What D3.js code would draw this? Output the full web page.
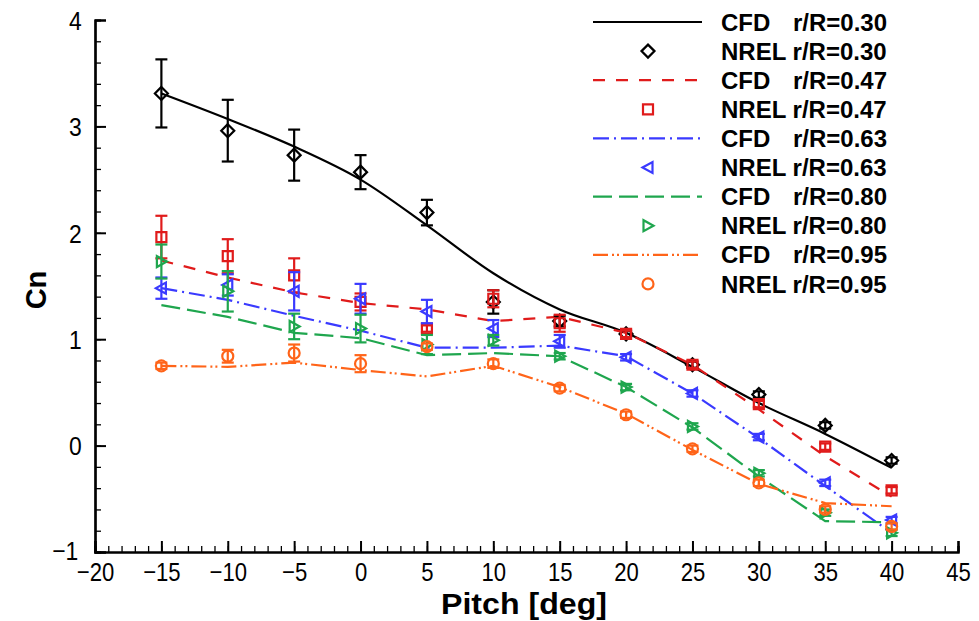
<!DOCTYPE html>
<html><head><meta charset="utf-8">
<script src="https://cdn.jsdelivr.net/npm/d3@7"></script>
<style>body{margin:0;background:#fff}svg{display:block}</style>
</head><body>
<svg id="c" width="979" height="621"></svg>
<script>
const pitch = [-15,-10,-5,0,5,10,15,20,25,30,35,40];
const xTicks = [-20,-15,-10,-5,0,5,10,15,20,25,30,35,40,45];
const yTicks = [-1,0,1,2,3,4];

const cfd030  = [3.31,3.07,2.81,2.50,2.07,1.62,1.28,1.06,0.74,0.40,0.11,-0.21];
const nrel030 = [3.31,2.96,2.73,2.57,2.19,1.35,1.17,1.05,0.76,0.48,0.19,-0.14];
const err030  = [0.32,0.29,0.24,0.16,0.12,0.11,0.05,0.03,0.03,0.03,0.03,0.03];

const cfd047  = [1.74,1.58,1.44,1.34,1.28,1.17,1.21,1.06,0.76,0.34,-0.10,-0.48];
const nrel047 = [1.96,1.78,1.60,1.35,1.10,1.38,1.15,1.05,0.76,0.39,-0.01,-0.42];
const err047  = [0.20,0.16,0.16,0.08,0.03,0.08,0.08,0.03,0.03,0.03,0.03,0.03];

const cfd063  = [1.48,1.37,1.22,1.08,0.92,0.92,0.94,0.84,0.49,0.07,-0.38,-0.82];
const nrel063 = [1.48,1.51,1.45,1.38,1.26,1.10,0.98,0.83,0.49,0.08,-0.35,-0.70];
const err063  = [0.10,0.10,0.18,0.14,0.11,0.08,0.06,0.03,0.03,0.03,0.03,0.03];

const cfd080  = [1.32,1.21,1.06,1.01,0.85,0.87,0.84,0.55,0.17,-0.29,-0.71,-0.72];
const nrel080 = [1.73,1.45,1.12,1.10,0.95,0.99,0.84,0.55,0.18,-0.26,-0.63,-0.82];
const err080  = [0.16,0.19,0.12,0.13,0.09,0.05,0.03,0.03,0.03,0.03,0.03,0.03];

const cfd095  = [0.75,0.74,0.78,0.71,0.65,0.75,0.55,0.30,-0.04,-0.36,-0.54,-0.57];
const nrel095 = [0.75,0.84,0.87,0.77,0.93,0.77,0.54,0.29,-0.03,-0.35,-0.60,-0.76];
const err095  = [0.03,0.06,0.08,0.08,0.03,0.04,0.03,0.03,0.03,0.03,0.03,0.03];

const radii = ["0.30","0.47","0.63","0.80","0.95"];

// styles
const colors = ["#000000","#e01b1b","#3a3aff","#1fa64e","#ff6419"];
const dashes = [null,"12,11","16,5,2,5","19,7","15,4,2,3,2,4"];
const symbols = ["diamond","square","triLeft","triRight","circle"];
const curves = [d3.curveMonotoneX, d3.curveLinear, d3.curveLinear, d3.curveLinear, d3.curveLinear];

const series = [
  {cfd:cfd030,nrel:nrel030,err:err030},
  {cfd:cfd047,nrel:nrel047,err:err047},
  {cfd:cfd063,nrel:nrel063,err:err063},
  {cfd:cfd080,nrel:nrel080,err:err080},
  {cfd:cfd095,nrel:nrel095,err:err095}
].map((s,i)=>Object.assign(s,{r:radii[i],color:colors[i],dash:dashes[i],sym:symbols[i],curve:curves[i]}));

const svg = d3.select("#c");
const x = d3.scaleLinear().domain([-20,45]).range([95,958]);
const y = d3.scaleLinear().domain([-1,4]).range([552,20]);
const FONT = "'Liberation Sans', Arial, sans-serif";

// axes
const xMinor = d3.range(-20,46,1);
const yMinor = d3.range(-1,4.001,0.2);
const gx = svg.append("g").attr("transform","translate(0,552)");
gx.call(d3.axisBottom(x).tickValues(xMinor).tickSize(-6).tickFormat(""));
gx.call(g=>g.selectAll(".tick line").attr("stroke-width",1.3));
const gx2 = svg.append("g").attr("transform","translate(0,552)");
gx2.call(d3.axisBottom(x).tickValues(xTicks).tickSize(-11).tickFormat(d3.format("d")));
gx2.selectAll(".tick line").attr("stroke-width",2);
gx2.selectAll(".tick text").attr("font-family",FONT).attr("font-size",26).attr("dy","0").attr("y",29)
  .attr("fill","#000").attr("transform","scale(0.85,1)");
[gx,gx2].forEach(g=>g.select(".domain").attr("stroke-width",2.2));

const gy = svg.append("g").attr("transform","translate(95,0)");
gy.call(d3.axisLeft(y).tickValues(yMinor).tickSize(-6).tickFormat(""));
gy.selectAll(".tick line").attr("stroke-width",1.3);
const gy2 = svg.append("g").attr("transform","translate(95,0)");
gy2.call(d3.axisLeft(y).tickValues(yTicks).tickSize(-11).tickFormat(d3.format("d")));
gy2.selectAll(".tick line").attr("stroke-width",2);
gy2.selectAll(".tick text").attr("font-family",FONT).attr("font-size",26).attr("fill","#000")
  .attr("dy","0.36em").attr("x",-15).attr("transform","scale(0.88,1)");
[gy,gy2].forEach(g=>g.select(".domain").attr("stroke-width",2.2));
gy2.selectAll(".tick").filter(d=>d===-1).select("text").attr("x",-19).attr("dy","0.3em");

// axis titles
svg.append("text").attr("x",524).attr("y",614).attr("text-anchor","middle")
  .attr("font-family",FONT).attr("font-weight","bold").attr("font-size",29)
  .attr("textLength",166).attr("lengthAdjust","spacingAndGlyphs").text("Pitch [deg]");
svg.append("text").attr("transform","translate(46,290) rotate(-90)").attr("text-anchor","middle")
  .attr("font-family",FONT).attr("font-weight","bold").attr("font-size",29).text("Cn");

function symPath(sym){
  if(sym==="diamond") return "M0,-6.5L6.5,0L0,6.5L-6.5,0Z";
  if(sym==="square") return "M-5,-5H5V5H-5Z";
  if(sym==="triLeft") return "M-5.5,0L4.5,-5.5L4.5,5.5Z";
  if(sym==="triRight") return "M5.5,0L-4.5,-5.5L-4.5,5.5Z";
  return d3.symbol(d3.symbolCircle,95)();
}

// CFD lines
series.forEach(s=>{
  const line = d3.line().x((d,i)=>x(pitch[i])).y(d=>y(d)).curve(s.curve);
  svg.append("path").datum(s.cfd).attr("d",line).attr("fill","none")
    .attr("stroke",s.color).attr("stroke-width",2.2).attr("stroke-dasharray",s.dash);
});

// NREL points with error bars
series.forEach(s=>{
  const g = svg.append("g");
  const pts = s.nrel.map((v,i)=>({x:pitch[i],v:v,e:s.err[i]}));
  const eb = g.selectAll("g.eb").data(pts).join("g").attr("stroke",s.color).attr("stroke-width",2.2);
  eb.append("line").attr("x1",d=>x(d.x)).attr("x2",d=>x(d.x)).attr("y1",d=>y(d.v+d.e)).attr("y2",d=>y(d.v-d.e));
  eb.append("line").attr("x1",d=>x(d.x)-6).attr("x2",d=>x(d.x)+6).attr("y1",d=>y(d.v+d.e)).attr("y2",d=>y(d.v+d.e));
  eb.append("line").attr("x1",d=>x(d.x)-6).attr("x2",d=>x(d.x)+6).attr("y1",d=>y(d.v-d.e)).attr("y2",d=>y(d.v-d.e));
  g.selectAll("path.m").data(pts).join("path").attr("class","m")
    .attr("d",symPath(s.sym)).attr("transform",d=>`translate(${x(d.x)},${y(d.v)})`)
    .attr("fill","none").attr("stroke",s.color).attr("stroke-width",2.2);
});

// legend
const lg = svg.append("g");
const rowY0 = 22, rowDy = 29.1;
series.forEach((s,i)=>{
  const yc = rowY0 + rowDy*(2*i);
  const ym = rowY0 + rowDy*(2*i+1);
  lg.append("line").attr("x1",593).attr("x2",702).attr("y1",yc).attr("y2",yc)
    .attr("stroke",s.color).attr("stroke-width",2.2).attr("stroke-dasharray",s.dash);
  lg.append("path").attr("d",symPath(s.sym)).attr("transform",`translate(648,${ym})`)
    .attr("fill","none").attr("stroke",s.color).attr("stroke-width",2.2);
  const t1 = lg.append("text").attr("y",yc).attr("dy","0.36em").attr("font-family",FONT)
    .attr("font-weight","bold").attr("font-size",24);
  t1.append("tspan").attr("x",721).text("CFD");
  t1.append("tspan").attr("x",793).text("r/R="+s.r);
  lg.append("text").attr("x",721).attr("y",ym).attr("dy","0.36em").attr("font-family",FONT)
    .attr("font-weight","bold").attr("font-size",24).text("NREL r/R="+s.r);
});
</script>
</body></html>
